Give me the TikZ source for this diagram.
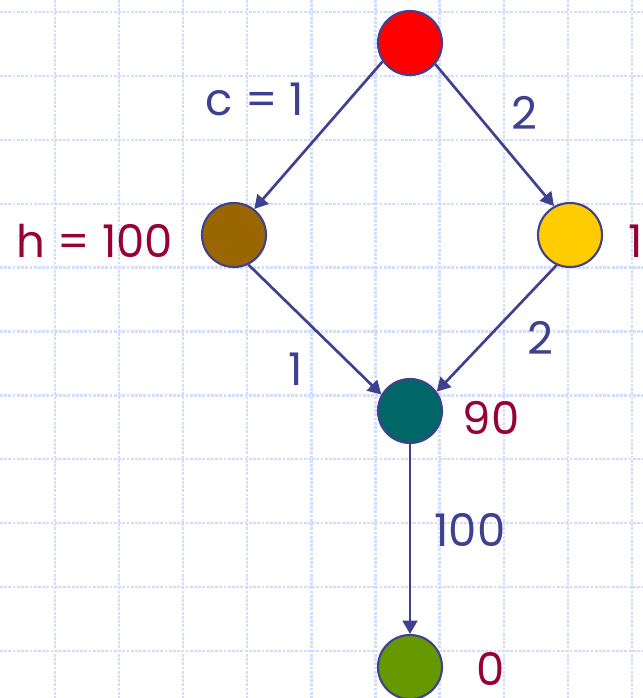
\documentclass[tikz,border=0pt]{standalone}
\usepackage{fontspec}
\setmainfont{Poppins}
\usetikzlibrary{arrows.meta, positioning}
\definecolor{edgeblue}  {HTML}{404090}
\definecolor{hcrimson}  {HTML}{990033}
\definecolor{gridblue}  {HTML}{D3DCF8}
\definecolor{startred}  {HTML}{FF0000}
\definecolor{nodebrown} {HTML}{996600}
\definecolor{nodeyellow}{HTML}{FFCC00}
\definecolor{nodeteal}  {HTML}{006666}
\definecolor{goalgreen} {HTML}{669900}
\tikzset{
  vtx/.style={
    circle, minimum size=1.6cm, inner sep=0pt,
    fill=#1, draw=edgeblue, line width=1.5pt
  },
  costarrow/.style={-{Triangle[length=9.5pt,width=10.5pt]}, line width=1.9pt, color=edgeblue},
  costlabel/.style={font=\fontsize{32}{36}\selectfont, text=edgeblue, inner sep=0pt},
  hlabel/.style={font=\fontsize{32}{36}\selectfont, text=hcrimson, inner sep=0pt},
  gridline/.style={dashed, dash pattern=on 2pt off 1pt, line width=1.6pt, color=gridblue}
}

\begin{document}
\begin{tikzpicture}[x=0.025cm, y=-0.025cm]
  \useasboundingbox[fill=white] (0,0) rectangle (643,698);

  % background grid
  \foreach \k in {0,...,9}{
    \draw[gridline] ({55+64.1*\k},0) -- ++(0,698);
  }
  \foreach \k in {0,...,10}{
    \draw[gridline] (0,{12+63.9*\k}) -- ++(643,0);
  }

  % search graph
  \node[vtx=startred]   (s) at (410,43)  {};
  \node[vtx=nodebrown]  (a) at (234,235) {};
  \node[vtx=nodeyellow] (b) at (570,235) {};
  \node[vtx=nodeteal]   (c) at (410,411) {};
  \node[vtx=goalgreen]  (g) at (410,667) {};

  \draw[costarrow] (s.214) -- (a.52);
  \draw[costarrow] (s.-40) -- (b.119);
  \draw[costarrow] (a.-64) -- (c.150);
  \draw[costarrow] (b.246) -- (c.36);
  \draw[costarrow] (c) -- (g);

  % edge costs
  \node[costlabel] (csa) at (255,99)  {c = 1};
  \node[costlabel] (csb) at (524,113) {2};
  \node[costlabel] (cac) at (296,369) {1};
  \node[costlabel] (cbc) at (540,338) {2};
  \node[costlabel] (ccg) at (470,530) {100};

  % heuristic values
  \node[hlabel] (ha) at (95,241)  {h = 100};
  \node[hlabel] (hb) at (636,241) {1};
  \node[hlabel] (hc) at (491,418) {90};
  \node[hlabel] (hg) at (491,669) {0};
\end{tikzpicture}
\end{document}
